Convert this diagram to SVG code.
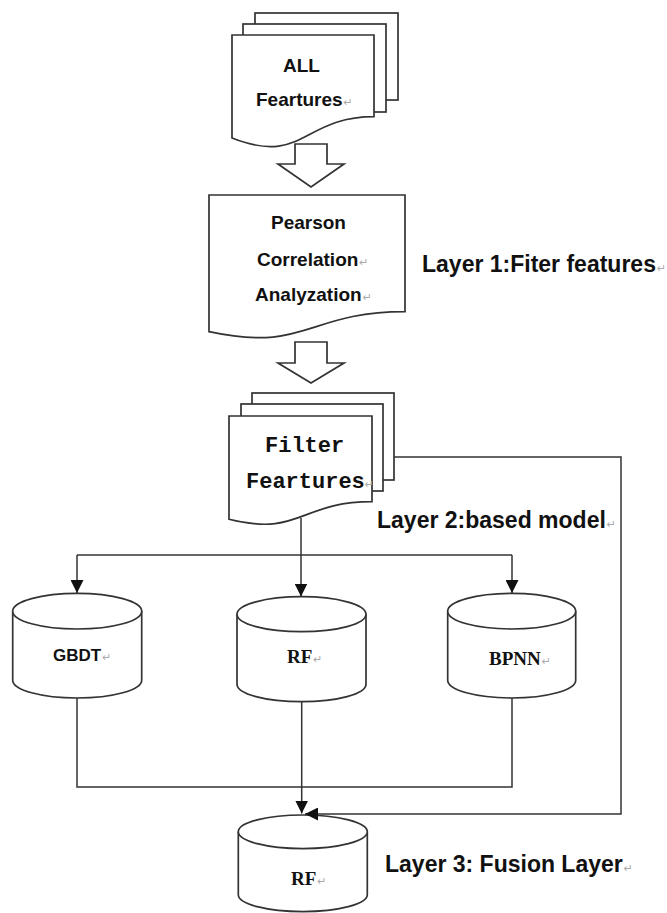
<svg xmlns="http://www.w3.org/2000/svg" width="667" height="913" viewBox="0 0 667 913">
<defs>
<marker id="ah" markerUnits="userSpaceOnUse" markerWidth="13" markerHeight="13" refX="13" refY="6.5" orient="auto">
<path d="M0,0 L13,6.5 L0,13 Z" fill="#111"/>
</marker>
<style>
.shp{fill:#fff;stroke:#333;stroke-width:1.7}
.con{fill:none;stroke:#333;stroke-width:1.5}
.sans{font-family:"Liberation Sans",Arial,sans-serif;font-weight:bold;fill:#111}
.mono{font-family:"Liberation Mono","Courier New",monospace;font-weight:bold;fill:#111}
.serif{font-family:"Liberation Serif","Times New Roman",serif;font-weight:bold;fill:#111}
.pm{font-family:"DejaVu Sans",sans-serif;font-size:11px;font-weight:normal;fill:#aaa}
</style>
</defs>
<rect width="667" height="913" fill="#fff"/>

<g id="all-features">
<rect class="shp" x="255" y="13" width="143" height="87"/>
<rect class="shp" x="243" y="24" width="143" height="88"/>
<path class="shp" d="M232,35 H374 V116.7 C303,116.7 303,166 232,138 Z"/>
<text class="sans" font-size="19" x="283" y="72">ALL</text>
<text class="sans" font-size="19" x="256" y="106">Feartures<tspan class="pm" dx="1">↵</tspan></text>
</g>

<g id="arrow1">
<path class="shp" d="M295,144 H327 V164 H344 L311,187 L278,164 H295 Z"/>
</g>

<g id="pearson">
<path class="shp" d="M209,195 H405 V311.7 C307,311.7 307,352.8 209,331.7 Z"/>
<text class="sans" font-size="19" x="271" y="229">Pearson</text>
<text class="sans" font-size="19" x="257" y="266">Correlation<tspan class="pm" dx="1">↵</tspan></text>
<text class="sans" font-size="19" x="255" y="301">Analyzation<tspan class="pm" dx="1">↵</tspan></text>
</g>

<g id="arrow2">
<path class="shp" d="M295,342 H327 V363 H344 L311,383 L278,363 H295 Z"/>
</g>

<g id="filter-features">
<rect class="shp" x="252" y="393" width="142" height="87"/>
<rect class="shp" x="241" y="404" width="142" height="87"/>
<path class="shp" d="M229,416 H372 V501.7 C300,501.7 300,537 229,519.3 Z"/>
<text class="mono" font-size="22" x="265" y="452">Filter</text>
<text class="mono" font-size="22" x="246" y="488">Feartures<tspan class="pm" dx="0">↵</tspan></text>
</g>

<g id="layer1">
<text class="sans" font-size="23" x="422" y="272">Layer 1:Fiter features<tspan class="pm" dx="1">↵</tspan></text>
</g>
<g id="layer2">
<text class="sans" font-size="23" x="377" y="528">Layer 2:based model<tspan class="pm" dx="1">↵</tspan></text>
</g>
<g id="layer3">
<text class="sans" font-size="23" x="385" y="872">Layer 3: Fusion Layer<tspan class="pm" dx="1">↵</tspan></text>
</g>

<g id="gbdt">
<path class="shp" d="M12.7,611.2 V680.2 A64.5,17.8 0 0 0 141.7,680.2 V611.2"/>
<ellipse class="shp" cx="77.2" cy="611.2" rx="64.5" ry="17.8"/>
<text class="sans" font-size="17" x="53" y="661">GBDT<tspan class="pm" dx="1">↵</tspan></text>
</g>

<g id="rf-base">
<path class="shp" d="M237,614.2 V684.2 A64.5,17.5 0 0 0 366,684.2 V614.2"/>
<ellipse class="shp" cx="301.5" cy="614.2" rx="64.5" ry="17.5"/>
<text class="serif" font-size="19" x="287" y="663">RF<tspan class="pm" dx="1">↵</tspan></text>
</g>

<g id="bpnn">
<path class="shp" d="M447.7,611.2 V680.2 A64,17.8 0 0 0 575.7,680.2 V611.2"/>
<ellipse class="shp" cx="511.7" cy="611.2" rx="64" ry="17.8"/>
<text class="serif" font-size="19" x="489" y="665">BPNN<tspan class="pm" dx="1">↵</tspan></text>
</g>

<g id="rf-fusion">
<path class="shp" d="M238.3,831.8 V894.8 A64.5,16.8 0 0 0 367.3,894.8 V831.8"/>
<ellipse class="shp" cx="302.8" cy="831.8" rx="64.5" ry="16.8"/>
<text class="serif" font-size="19" x="291" y="885">RF<tspan class="pm" dx="1">↵</tspan></text>
</g>

<g id="connectors">
<path class="con" d="M301,518 V555"/>
<path class="con" d="M77,555 H512"/>
<path class="con" d="M77,555 V593" marker-end="url(#ah)"/>
<path class="con" d="M301,555 V596.5" marker-end="url(#ah)"/>
<path class="con" d="M512,555 V593" marker-end="url(#ah)"/>
<path class="con" d="M77,698 V787 H512 V698"/>
<path class="con" d="M301.7,701.7 V813.5" marker-end="url(#ah)"/>
<path class="con" d="M394,457 H621 V814 H305" marker-end="url(#ah)"/>
</g>
</svg>
